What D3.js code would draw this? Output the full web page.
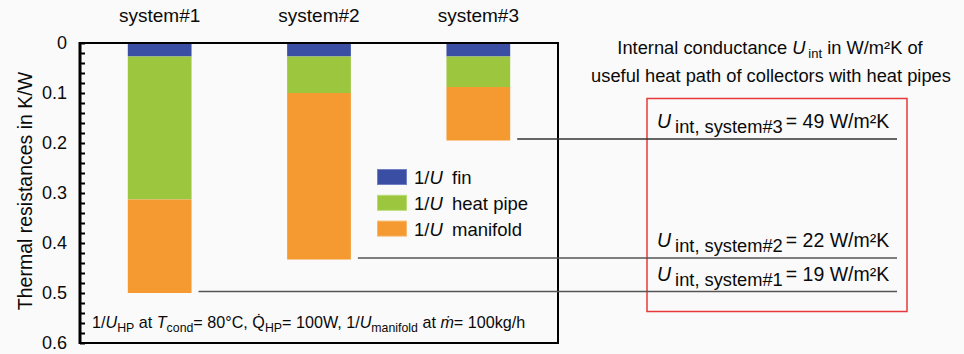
<!DOCTYPE html>
<html>
<head>
<meta charset="utf-8">
<script src="https://cdn.jsdelivr.net/npm/d3@7"></script>
<style>
  html, body { margin: 0; padding: 0; background: #fafafa; }
  svg { display: block; font-family: "Liberation Sans", Arial, sans-serif; }
</style>
</head>
<body>
<svg id="chart" width="964" height="354"></svg>
<script>
// Thermal resistances (K/W) per collector system, stacked fin -> heat pipe -> manifold
const systems = ["system#1", "system#2", "system#3"];
const rFin = [0.027, 0.027, 0.027];
const rHeatPipe = [0.286, 0.073, 0.061];
const rManifold = [0.187, 0.333, 0.107];
// Internal conductance of the useful heat path, W/m²K
const uInt = [19, 22, 49];
const seriesNames = ["fin", "heat pipe", "manifold"];
const seriesColors = ["#3a4fa3", "#9bc63e", "#f49a30"];
const seriesStroke = ["#6f80c4", "#b9dc72", "#f8b96e"];
const yMajorTicks = [0, 0.1, 0.2, 0.3, 0.4, 0.5, 0.6];
const yMinorStep = 0.02;

const ink = "#0a0a0a";
const svg = d3.select("#chart");
const W = 964, H = 354;
svg.append("rect").attr("width", W).attr("height", H).attr("fill", "#fafafa");

const plot = { left: 80, right: 558, top: 43, bottom: 343 };

const x = d3.scaleBand()
  .domain(systems)
  .range([plot.left, plot.right])
  .paddingInner(0.6)
  .paddingOuter(0.3);

const y = d3.scaleLinear()
  .domain([0, 0.6])
  .range([plot.top, plot.bottom]);

// stacked layout
const rows = systems.map((s, i) => ({ system: s, fin: rFin[i], "heat pipe": rHeatPipe[i], manifold: rManifold[i] }));
const stack = d3.stack().keys(seriesNames)(rows);

svg.append("g").selectAll("g.series")
  .data(stack)
  .join("g")
  .attr("class", "series")
  .attr("fill", (d, i) => seriesColors[i])
  .selectAll("rect")
  .data(d => d)
  .join("rect")
  .attr("x", d => x(d.data.system))
  .attr("width", x.bandwidth())
  .attr("y", d => y(d[0]))
  .attr("height", d => y(d[1]) - y(d[0]));

// system names above the columns
svg.selectAll("text.sys")
  .data(systems)
  .join("text")
  .attr("class", "sys")
  .attr("x", d => x(d) + x.bandwidth() / 2)
  .attr("y", 22)
  .attr("text-anchor", "middle")
  .attr("font-size", 19)
  .attr("fill", ink)
  .text(d => d);

// y axis with inward ticks every 0.02, labels every 0.1
const tickVals = d3.range(0, Math.round(0.6 / yMinorStep) + 1).map(i => +(i * yMinorStep).toFixed(2));
const isMajor = v => yMajorTicks.some(m => Math.abs(m - v) < 1e-9);
const yAxis = d3.axisLeft(y)
  .tickValues(tickVals)
  .tickSize(-5)
  .tickPadding(13)
  .tickFormat(v => isMajor(v) ? (v === 0 ? "0" : d3.format(".1f")(v)) : "");
const ax = svg.append("g").attr("transform", `translate(${plot.left},0)`).call(yAxis);
ax.select(".domain").remove();
ax.selectAll(".tick line").attr("stroke", "#000").attr("stroke-width", 2);
ax.selectAll(".tick text").attr("font-size", 18).attr("fill", ink)
  .attr("font-family", "Liberation Sans, Arial, sans-serif");

// plot frame
svg.append("rect")
  .attr("x", plot.left).attr("y", plot.top)
  .attr("width", plot.right - plot.left).attr("height", plot.bottom - plot.top)
  .attr("fill", "none").attr("stroke", "#000").attr("stroke-width", 2);
svg.append("line")
  .attr("x1", plot.left).attr("x2", plot.left)
  .attr("y1", plot.top - 1).attr("y2", plot.bottom + 1)
  .attr("stroke", "#000").attr("stroke-width", 3);

// y axis title
svg.append("text")
  .attr("transform", `translate(32,${(plot.top + plot.bottom) / 2 - 2}) rotate(-90)`)
  .attr("text-anchor", "middle")
  .attr("font-size", 19.5)
  .attr("fill", ink)
  .text("Thermal resistances in K/W");

// legend
const legend = svg.append("g").attr("transform", "translate(377,169)");
seriesNames.forEach((name, i) => {
  const row = legend.append("g").attr("transform", `translate(0,${i * 25.8})`);
  row.append("rect").attr("x", 0.5).attr("y", 0.5).attr("width", 29).attr("height", 15)
    .attr("fill", seriesColors[i]).attr("stroke", seriesStroke[i]).attr("stroke-width", 1);
  const t = row.append("text").attr("x", 37).attr("y", 15).attr("font-size", 18.5).attr("fill", ink);
  t.append("tspan").text("1/");
  t.append("tspan").attr("font-style", "italic").text("U");
  row.append("text").attr("x", 75).attr("y", 15).attr("font-size", 18.5).attr("fill", ink).text(name);
});

// footnote inside the plot (set slightly condensed)
const fn = svg.append("g").attr("transform", "translate(92,328) scale(0.95,1)")
  .append("text").attr("x", 0).attr("y", 0).attr("font-size", 17).attr("fill", ink);
const fnParts = [
  { t: "1/" }, { t: "U", i: true }, { t: "HP", s: true }, { t: " at " }, { t: "T", i: true },
  { t: "cond", s: true }, { t: "= 80°C, " }, { t: "Q\u0307" }, { t: "HP", s: true },
  { t: "= 100W, 1/" }, { t: "U", i: true }, { t: "manifold", s: true }, { t: " at " },
  { t: "m\u0307", i: true }, { t: "= 100kg/h" }
];
let inSub = false;
fnParts.forEach(p => {
  const ts = fn.append("tspan").text(p.t);
  if (p.i) ts.attr("font-style", "italic");
  if (p.s) { ts.attr("font-size", 13).attr("dy", inSub ? 0 : 4); inSub = true; }
  else { if (inSub) ts.attr("dy", -4); inSub = false; }
});

// right-hand heading
const h1 = svg.append("text").attr("x", 770).attr("y", 54).attr("text-anchor", "middle")
  .attr("font-size", 18.3).attr("fill", ink);
h1.append("tspan").text("Internal conductance ");
h1.append("tspan").attr("font-style", "italic").text("U");
h1.append("tspan").attr("font-size", 13).attr("dx", 3).attr("dy", 4).text("int");
h1.append("tspan").attr("dy", -4).text(" in W/m²K of");
svg.append("text").attr("x", 771).attr("y", 82).attr("text-anchor", "middle")
  .attr("font-size", 18.3).attr("fill", ink)
  .text("useful heat path of collectors with heat pipes");

// red frame around the conductance results
svg.append("rect").attr("x", 647).attr("y", 98.5).attr("width", 260).attr("height", 213)
  .attr("fill", "none").attr("stroke", "#e8393a").attr("stroke-width", 1.5);

// leader lines from each column total to its conductance label
const totals = rows.map(r => r.fin + r["heat pipe"] + r.manifold);
systems.forEach((s, i) => {
  const ly = y(totals[i]) - 1.5;
  svg.append("line")
    .attr("x1", x(s) + x.bandwidth() + 7).attr("x2", 897)
    .attr("y1", ly).attr("y2", ly)
    .attr("stroke", i === 2 ? "#333" : "#555").attr("stroke-width", 1.5);
  const t = svg.append("text").attr("x", 657).attr("y", ly - 11).attr("font-size", 18.3).attr("fill", ink);
  t.append("tspan").attr("font-style", "italic").attr("font-size", 19.5).text("U");
  t.append("tspan").attr("dx", 4).attr("dy", 5).text(`int, ${s}`);
  t.append("tspan").attr("dx", 3).attr("dy", -5).attr("font-size", 19.5).text(`= ${uInt[i]} W/m²K`);
});
</script>
</body>
</html>
